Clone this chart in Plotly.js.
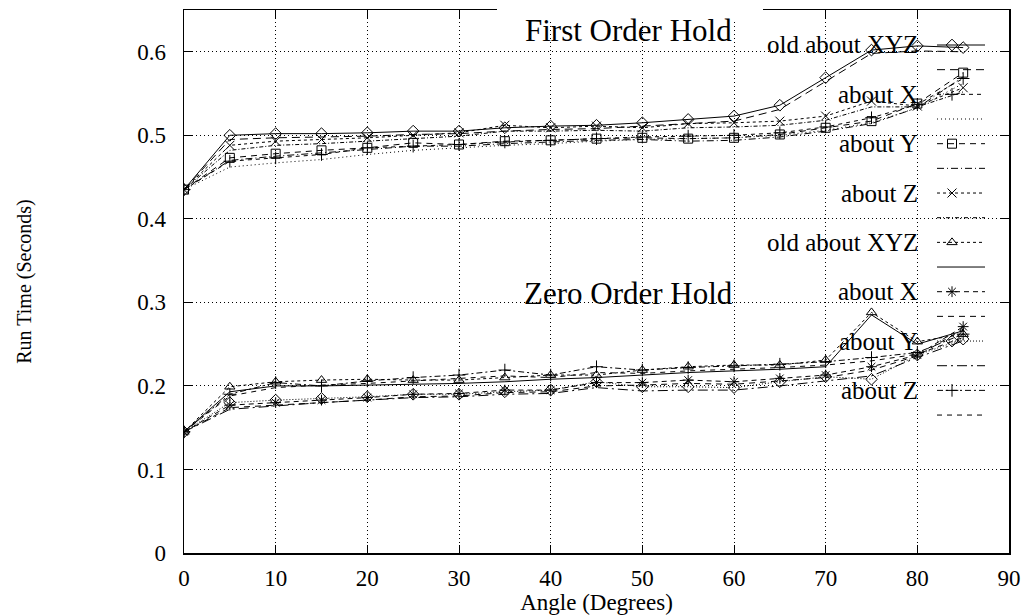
<!DOCTYPE html>
<html>
<head>
<meta charset="utf-8">
<script src="https://cdn.plot.ly/plotly-3.0.1.min.js"></script>
<style>html,body{margin:0;padding:0;background:#fff;}#chart{width:1025px;height:615px;}</style>
</head>
<body>
<div id="chart"></div>
<script>
// ---- data ----
const angles = [0,5,10,15,20,25,30,35,40,45,50,55,60,65,70,75,80,85];

// First Order Hold
const fohXYZ   = [0.435,0.500,0.502,0.502,0.503,0.505,0.505,0.509,0.511,0.512,0.515,0.519,0.523,0.536,0.569,0.602,0.607,0.605];
const fohXYZ2  = [0.435,0.495,0.497,0.498,0.499,0.501,0.502,0.505,0.507,0.508,0.511,0.514,0.517,0.531,0.565,0.598,0.601,0.600];
const fohX     = [0.435,0.469,0.473,0.477,0.485,0.487,0.489,0.492,0.494,0.496,0.498,0.499,0.500,0.503,0.510,0.521,0.537,0.568];
const fohX2    = [0.435,0.462,0.467,0.471,0.477,0.482,0.485,0.488,0.490,0.493,0.495,0.496,0.497,0.500,0.506,0.515,0.533,0.562];
const fohY     = [0.435,0.473,0.478,0.482,0.485,0.491,0.489,0.493,0.494,0.496,0.497,0.496,0.497,0.501,0.509,0.517,0.538,0.575];
const fohY2    = [0.435,0.470,0.475,0.479,0.483,0.487,0.487,0.490,0.492,0.494,0.495,0.493,0.494,0.498,0.505,0.514,0.533,0.570];
const fohZ     = [0.435,0.488,0.493,0.495,0.497,0.500,0.503,0.512,0.509,0.511,0.509,0.514,0.515,0.517,0.523,0.541,0.535,0.557];
const fohZ2    = [0.435,0.482,0.488,0.490,0.493,0.496,0.499,0.505,0.505,0.506,0.505,0.509,0.510,0.512,0.518,0.534,0.534,0.552];

// Zero Order Hold
const zohXYZ   = [0.145,0.199,0.205,0.207,0.208,0.207,0.207,0.210,0.213,0.213,0.219,0.223,0.225,0.225,0.231,0.288,0.253,0.262];
const zohXYZ2  = [0.145,0.193,0.200,0.200,0.201,0.202,0.203,0.205,0.208,0.210,0.213,0.216,0.218,0.220,0.223,0.285,0.250,0.266];
const zohX     = [0.145,0.177,0.180,0.183,0.186,0.190,0.191,0.195,0.195,0.204,0.204,0.207,0.205,0.209,0.213,0.223,0.237,0.271];
const zohX2    = [0.145,0.174,0.177,0.180,0.183,0.187,0.188,0.192,0.193,0.200,0.201,0.203,0.202,0.206,0.210,0.219,0.236,0.268];
const zohY     = [0.145,0.180,0.183,0.185,0.187,0.190,0.190,0.193,0.195,0.205,0.199,0.199,0.198,0.205,0.211,0.208,0.237,0.256];
const zohY2    = [0.145,0.172,0.176,0.180,0.183,0.186,0.187,0.190,0.191,0.198,0.194,0.195,0.195,0.200,0.206,0.212,0.234,0.254];
const zohZ     = [0.145,0.190,0.204,0.200,0.206,0.210,0.213,0.219,0.213,0.223,0.219,0.222,0.224,0.226,0.229,0.234,0.240,0.262];
const zohZ2    = [0.145,0.188,0.198,0.201,0.203,0.206,0.209,0.212,0.210,0.216,0.215,0.218,0.220,0.222,0.225,0.230,0.238,0.258];

const keyLabels = ["old about XYZ","","about X","","about Y","","about Z","",
                   "old about XYZ","","about X","","about Y","","about Z",""];
const groupLabels = ["First Order Hold","Zero Order Hold"];
const xTitle = "Angle (Degrees)";
const yTitle = "Run Time (Seconds)";

// ---- styles (order matches key rows) ----
const seriesList = [fohXYZ,fohXYZ2,fohX,fohX2,fohY,fohY2,fohZ,fohZ2,
                    zohXYZ,zohXYZ2,zohX,zohX2,zohY,zohY2,zohZ,zohZ2];
const styles = [
  {dash:'solid',          sym:'diamond-open'},
  {dash:'8px,5px',        sym:null},
  {dash:'4px,4px',        sym:'cross-thin-open'},
  {dash:'1px,3px',        sym:null},
  {dash:'6px,5px',        sym:'square-open'},
  {dash:'7px,3px,1px,3px',sym:null},
  {dash:'3px,3px',        sym:'x-thin-open'},
  {dash:'4px,2px,1px,2px',sym:null},
  {dash:'3px,3px',        sym:'triangle-up-open'},
  {dash:'solid',          sym:null},
  {dash:'5px,4px',        sym:'asterisk-open'},
  {dash:'6px,5px',        sym:null},
  {dash:'1px,2px',        sym:'diamond-open'},
  {dash:'10px,4px,2px,4px',sym:null},
  {dash:'6px,3px,2px,3px',sym:'cross-thin-open'},
  {dash:'5px,5px',        sym:null}
];

const FONT = 'Liberation Serif';
const markerStyle = sym => ({symbol:sym, size:9, color:'#000', line:{color:'#000', width:1}});
const traces = [];
seriesList.forEach((ys,i)=>{
  const st = styles[i];
  const t = {
    x: angles, y: ys, type:'scatter',
    mode: st.sym ? 'lines+markers' : 'lines',
    line:{color:'#000', width:1, dash:st.dash},
    showlegend:false, hoverinfo:'skip'
  };
  if(st.sym) t.marker = markerStyle(st.sym);
  traces.push(t);
});

// ---- key (drawn on an overlay axis with range 0..1 over the plot area) ----
const plotTop = 10, plotBottom = 553, plotLeft = 184, plotRight = 1009;
const rowPx = i => 45 + 24.67*i;
const toPaperY = py => (plotBottom - py)/(plotBottom - plotTop);
const toPaperX = px => (px - plotLeft)/(plotRight - plotLeft);
const annotations = [];
styles.forEach((st,i)=>{
  const yy = toPaperY(rowPx(i));
  traces.push({
    x:[toPaperX(937), toPaperX(985)], y:[yy,yy], xaxis:'x2', yaxis:'y2',
    type:'scatter', mode:'lines', line:{color:'#000', width:1, dash:st.dash},
    showlegend:false, hoverinfo:'skip'
  });
  if(st.sym){
    traces.push({
      x:[toPaperX(952)], y:[yy], xaxis:'x2', yaxis:'y2', type:'scatter', mode:'markers',
      marker:markerStyle(st.sym), showlegend:false, hoverinfo:'skip'
    });
  }
  if(keyLabels[i]){
    annotations.push({xref:'paper', yref:'paper', x:toPaperX(920), y:yy, xanchor:'right', yanchor:'middle',
      text:keyLabels[i], showarrow:false, font:{family:FONT, size:25, color:'#000'}});
  }
});
annotations.push({xref:'paper', yref:'paper', x:toPaperX(628), y:toPaperY(30), xanchor:'center', yanchor:'middle',
  text:groupLabels[0], showarrow:false, font:{family:FONT, size:31, color:'#000'}});
annotations.push({xref:'paper', yref:'paper', x:toPaperX(628), y:toPaperY(293), xanchor:'center', yanchor:'middle',
  text:groupLabels[1], showarrow:false, font:{family:FONT, size:31, color:'#000'}});

const boxX0 = toPaperX(497), boxX1 = toPaperX(763);
const shapes = [
  {type:'rect', xref:'paper', yref:'paper', x0:boxX0, x1:boxX1, y0:toPaperY(87), y1:1, layer:'between',
   fillcolor:'#fff', line:{width:0}},
  {type:'rect', xref:'paper', yref:'paper', x0:boxX0, x1:boxX1, y0:toPaperY(350), y1:toPaperY(207), layer:'between',
   fillcolor:'#fff', line:{width:0}},
  {type:'rect', xref:'paper', yref:'paper', x0:boxX0, x1:boxX1, y0:toPaperY(20), y1:1.03, layer:'above',
   fillcolor:'#fff', line:{width:0}}
];

const axisCommon = {
  showline:true, linecolor:'#000', linewidth:1.5, mirror:'ticks',
  ticks:'inside', ticklen:8, tickcolor:'#000', tickwidth:1,
  showgrid:true, gridcolor:'#000', griddash:'1px,3px', gridwidth:1,
  zeroline:false, tickfont:{family:FONT, size:23, color:'#000'}
};

const layout = {
  width:1025, height:615,
  font:{family:FONT, color:'#000'},
  margin:{l:plotLeft, r:1025-plotRight, t:plotTop, b:615-plotBottom},
  paper_bgcolor:'#fff', plot_bgcolor:'#fff',
  showlegend:false,
  xaxis: Object.assign({}, axisCommon, {range:[0,90], dtick:10, tick0:0, ticklabelstandoff:4,
    title:{text:xTitle, font:{family:FONT, size:23, color:'#000'}, standoff:0}}),
  yaxis: Object.assign({}, axisCommon, {range:[0,0.65], dtick:0.1, tick0:0, ticklabelstandoff:12,
    title:{text:yTitle, font:{family:FONT, size:20, color:'#000'}, standoff:100}}),
  xaxis2:{overlaying:'x', range:[0,1], visible:false, fixedrange:true},
  yaxis2:{overlaying:'y', range:[0,1], visible:false, fixedrange:true},
  annotations: annotations,
  shapes: shapes
};

Plotly.newPlot('chart', traces, layout, {displayModeBar:false, staticPlot:true});
</script>
</body>
</html>
